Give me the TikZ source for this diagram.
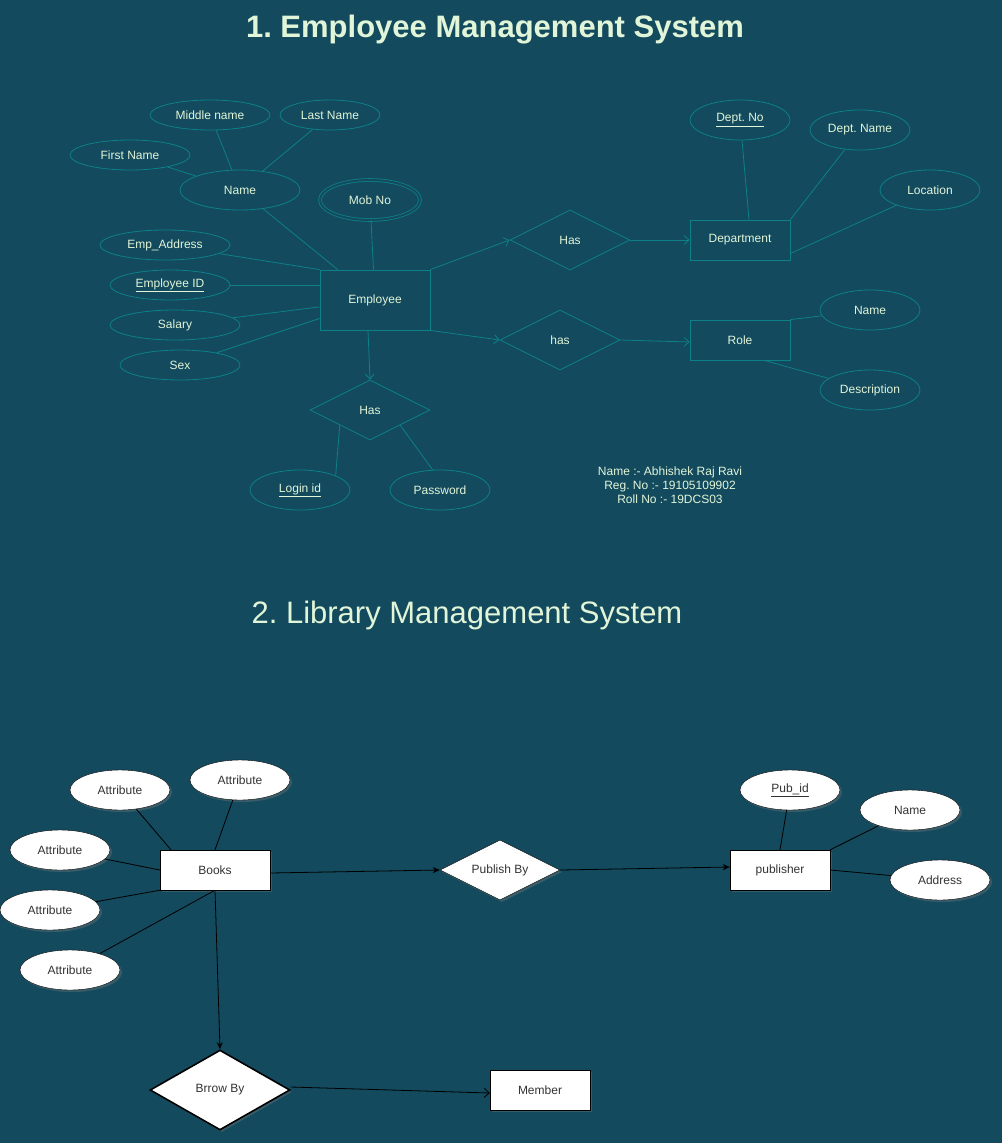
\documentclass[tikz,border=0pt]{standalone}
\usepackage{fontspec}
\setmainfont{Liberation Sans}
\usetikzlibrary{shapes.geometric,arrows.meta,shadows}
\definecolor{bgblue}{HTML}{134A5E}
\definecolor{tealline}{HTML}{0E8088}
\definecolor{paletext}{HTML}{E1F5D8}
\definecolor{darktext}{HTML}{333333}
\frenchspacing
\begin{document}
\begin{tikzpicture}[x=1pt,y=-1pt,
    font=\fontsize{12}{14}\selectfont,
    attr/.style={ellipse,draw=tealline,line width=.8pt,text=paletext,minimum width=100pt,minimum height=40pt,inner sep=0pt},
    ent/.style={rectangle,draw=tealline,line width=.8pt,text=paletext,minimum width=100pt,minimum height=40pt,inner sep=0pt},
    rel/.style={diamond,aspect=2,draw=tealline,line width=.8pt,text=paletext,minimum width=120pt,minimum height=60pt,inner sep=0pt},
    link/.style={draw=tealline,line width=.8pt},
    linkto/.style={draw=tealline,line width=.8pt,-{Straight Barb[length=5pt,width=9pt]}},
    battr/.style={ellipse,draw=black,fill=white,text=darktext,minimum width=100pt,minimum height=40pt,inner sep=0pt,
        drop shadow={shadow xshift=2pt,shadow yshift=-2pt,opacity=.35}},
    bent/.style={rectangle,draw=black,fill=white,text=darktext,minimum width=110pt,minimum height=40pt,inner sep=0pt,
        drop shadow={shadow xshift=2pt,shadow yshift=-2pt,opacity=.35}},
    brel/.style={diamond,aspect=2,draw=black,fill=white,text=darktext,minimum width=120pt,minimum height=60pt,inner sep=0pt,
        drop shadow={shadow xshift=2pt,shadow yshift=-2pt,opacity=.35}},
    blink/.style={draw=black,line width=.8pt},
    blinkto/.style={draw=black,line width=.8pt,-{Stealth[length=7pt,width=6pt]}}]
    \fill[bgblue] (0,0) rectangle (1002,1143);
    \useasboundingbox (0,0) rectangle (1002,1143);

    % Employee Management System
    \node[text=paletext,font=\bfseries\fontsize{31}{36}\selectfont] (title1) at (495,30) {1. Employee Management System};

    \node[ent,minimum width=110pt,minimum height=60pt] (emp) at (375,300) {Employee};
    \node[ent] (dept) at (740,240) {Department};
    \node[ent] (role) at (740,340) {Role};

    \node[rel] (has1) at (570,240) {Has};
    \node[rel] (has2) at (560,340) {has};
    \node[rel] (has3) at (370,410) {Has};

    \node[attr,minimum width=120pt,minimum height=30pt] (midname) at (210,115) {Middle name};
    \node[attr,minimum height=30pt] (lastname) at (330,115) {Last Name};
    \node[attr,minimum width=120pt,minimum height=30pt] (firstname) at (130,155) {First Name};
    \node[attr,minimum width=120pt] (name) at (240,190) {Name};
    \node[attr,double=bgblue,double distance=2pt] (mobno) at (370,200) {Mob No};
    \node[attr,minimum width=130pt,minimum height=30pt] (empaddr) at (165,245) {Emp\_Address};
    \node[attr,minimum width=120pt,minimum height=30pt] (empid) at (170,285) {\underline{Employee ID}};
    \node[attr,minimum width=130pt,minimum height=30pt] (salary) at (175,325) {Salary};
    \node[attr,minimum width=120pt,minimum height=30pt] (sex) at (180,365) {Sex};

    \node[attr] (deptno) at (740,120) {\underline{Dept. No}};
    \node[attr] (deptname) at (860,130) {Dept. Name};
    \node[attr] (location) at (930,190) {Location};
    \node[attr] (rolename) at (870,310) {Name};
    \node[attr] (desc) at (870,390) {Description};
    \node[attr] (login) at (300,490) {\underline{Login id}};
    \node[attr] (passwd) at (440,490) {Password};

    \node[text=paletext,align=center] (author) at (670,485) {Name :- Abhishek Raj Ravi\\Reg. No :- 19105109902\\Roll No :- 19DCS03};

    \draw[link] (firstname) -- (name);
    \draw[link] (midname) -- (name);
    \draw[link] (lastname) -- (name);
    \draw[link] (name) -- (emp);
    \draw[link] (mobno) -- (emp);
    \draw[link] (empaddr) -- (emp.north west);
    \draw[link] (empid.east) -- (emp.west |- empid.east);
    \draw[link] (salary) -- (emp);
    \draw[link] (sex) -- (emp);

    \draw[linkto] (emp.north east) -- (has1.west);
    \draw[linkto] (has1.east) -- (dept.west);
    \draw[linkto] (emp.south east) -- (has2.west);
    \draw[linkto] (has2.east) -- ([yshift=-2pt]role.west);
    \draw[linkto] ([xshift=-7pt]emp.south) -- (has3.north);

    \draw[link] ([xshift=2pt]deptno.south) -- ([xshift=9pt]dept.north);
    \draw[link] (deptname) -- (dept.north east);
    \draw[link] (location) -- (dept.-15);
    \draw[link] (rolename) -- (role.north east);
    \draw[link] (desc) -- (role.-40);
    \draw[link] (has3.south west) -- (login.north east);
    \draw[link] (has3.south east) -- (passwd.110);

    % Library Management System
    \node[text=paletext,font=\fontsize{31}{36}\selectfont] (title2) at (467,615) {2. Library Management System};

    \node[bent] (books) at (215,870) {Books};
    \node[bent,minimum width=100pt] (publisher) at (780,870) {publisher};
    \node[bent,minimum width=100pt] (member) at (540,1090) {Member};

    \node[brel] (publish) at (500,870) {Publish By};
    \node[brel,minimum width=140pt,minimum height=80pt,line width=1.6pt] (borrow) at (220,1090) {Brrow By};

    \node[battr] (attra) at (120,790) {Attribute};
    \node[battr] (attrb) at (240,780) {Attribute};
    \node[battr] (attrc) at (60,850) {Attribute};
    \node[battr] (attrd) at (50,910) {Attribute};
    \node[battr] (attre) at (70,970) {Attribute};
    \node[battr] (pubid) at (790,790) {\underline{Pub\_id}};
    \node[battr] (pubname) at (910,810) {Name};
    \node[battr] (pubaddr) at (940,880) {Address};

    \draw[blink] (attra) -- ([xshift=-44pt]books.north);
    \draw[blink] (attrb) -- (books.north);
    \draw[blink] (attrc) -- (books.west);
    \draw[blink] (attrd) -- (books.south west);
    \draw[blink] (attre) -- (books.south);

    \draw[blinkto] ([yshift=-3pt]books.east) -- (publish.west);
    \draw[blinkto] (publish.east) -- ([yshift=3pt]publisher.west);
    \draw[blinkto] (books.south) -- (borrow.north);
    \draw[blink,-{Straight Barb[length=5pt,width=9pt]}] ([yshift=3pt]borrow.east) -- ([yshift=-3pt]member.west);

    \draw[blink] (pubid) -- (publisher.north);
    \draw[blink] (pubname) -- (publisher.north east);
    \draw[blink] (pubaddr) -- (publisher.east);
\end{tikzpicture}
\end{document}
